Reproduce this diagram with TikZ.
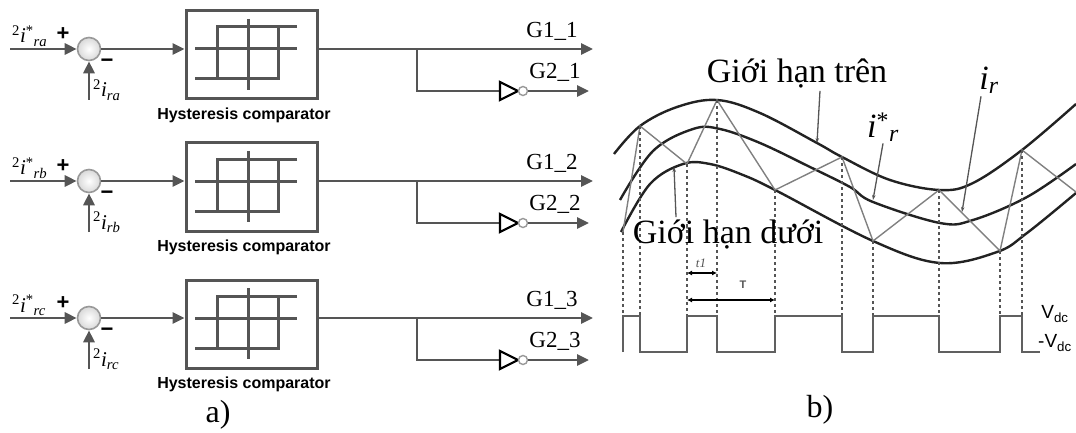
\documentclass[tikz,border=0pt]{standalone}
\usepackage{fontspec}
\setmainfont{Liberation Serif}
\setsansfont{Liberation Sans}
\usetikzlibrary{arrows.meta,calc}
\definecolor{wg}{HTML}{555555}
\definecolor{cv}{HTML}{222222}
\definecolor{zz}{HTML}{808080}
\definecolor{pl}{HTML}{606060}
\begin{document}
\begin{tikzpicture}[x=1pt,y=-1pt,
  wire/.style={draw=wg,line width=2.8pt},
  arr/.style={wire,-{Triangle[length=12pt,width=11pt]}},
  sumnode/.style={circle,draw=gray!80,line width=1.6pt,inner color=white,outer color=gray!30,minimum size=23pt,inner sep=0pt},
  hbox/.style={draw=wg,line width=3pt,fill=white,minimum width=131pt,minimum height=88pt,inner sep=0pt},
  bubble/.style={circle,draw=gray!80,line width=1.4pt,fill=white,minimum size=9pt,inner sep=0pt},
  hys/.style={draw=wg,line width=3pt},
  glab/.style={font=\fontsize{23}{26}\selectfont,inner sep=0pt},
  inlab/.style={font=\fontsize{21}{24}\selectfont,inner sep=0pt},
  sgn/.style={font=\sffamily\bfseries\fontsize{22}{24}\selectfont,inner sep=0pt},
  cmp/.style={font=\sffamily\bfseries\fontsize{16}{18}\selectfont,inner sep=0pt},
  curve/.style={draw=cv,line width=2.4pt},
  zig/.style={draw=zz,line width=1.4pt},
  dots/.style={draw=wg,line width=2.4pt,dash pattern=on 3pt off 3pt},
  pulse/.style={draw=pl,line width=1.8pt},
  ptr/.style={draw=wg,line width=1.3pt,-{Stealth[length=5pt,width=3.5pt]}},
  dim/.style={draw=black,line width=1.3pt,{Latex[length=5pt,width=5pt]}-{Latex[length=5pt,width=5pt]}},
  vlab/.style={font=\fontsize{34}{38}\selectfont,inner sep=0pt},
  capt/.style={font=\fontsize{32}{36}\selectfont,inner sep=0pt}]
\useasboundingbox (0,0) rectangle (1076,433);

% ---------- part a ----------
\foreach \y/\s/\n in {49/a/1,181/b/2,318/c/3}{
  \coordinate (in\n) at (10,\y);
  \node[sumnode] (sum\n) at (89,\y) {};
  \coordinate (fb\n) at (89,\y+51);
  \node[hbox] (box\n) at (251.5,\y+6) {};
  % hysteresis symbol
  \draw[hys] (195,\y) -- (297,\y);
  \draw[hys] (248,\y-30) -- (248,\y+41);
  \draw[hys] (297,\y-22) -- (217,\y-22) -- (217,\y+30);
  \draw[hys] (195,\y+30) -- (278,\y+30) -- (278,\y-22);
  \node[cmp] (cmp\n) at (244,\y+66) {Hysteresis comparator};
  % inputs
  \draw[arr] (in\n) -- (sum\n.west);
  \draw[arr] (fb\n) -- (sum\n.south);
  \draw[arr] (sum\n.east) -- (box\n.west |- sum\n.east);
  \node[inlab,anchor=base west] (ref\n) at (12,\y-6)
     {\textsuperscript{2}\textit{i}\textsuperscript{*}\textsubscript{\textit{r\s}}};
  \node[inlab,anchor=base west] (meas\n) at (93,\y+48)
     {\textsuperscript{2}\textit{i}\textsubscript{\textit{r\s}}};
  \node[sgn] (plus\n) at (63,\y-15) {+};
  \node[sgn] (minus\n) at (107,\y+14) {−};
  % outputs
  \coordinate (g1e\n) at (593,\y);
  \coordinate (br\n) at (417,\y);
  \coordinate (invin\n) at (500,\y+42);
  \coordinate (g2e\n) at (589,\y+42);
  \draw[arr] (box\n.east |- sum\n.east) -- (g1e\n);
  \draw[wire] (br\n) |- (invin\n);
  \draw[black,line width=2.2pt,line join=miter] (invin\n) -- ++(0,-9) -- ++(18,9) -- ++(-18,9) -- cycle;
  \node[bubble] (bub\n) at (523,\y+42) {};
  \draw[arr] (bub\n) -- (g2e\n);
  \node[glab] (G1\n) at (552,\y-18) {G1\_\n};
  \node[glab] (G2\n) at (555,\y+23) {G2\_\n};
}
\node[capt] (capa) at (218,415) {a)};

% ---------- part b ----------
\draw[curve] plot[smooth,tension=0.6] coordinates {(614,154) (640,126) (677,107) (717,100) (760,113) (817,143) (842,157) (890,180) (940,190) (973,183) (1022,150) (1076,104)};
\draw[curve] plot[smooth,tension=0.6] coordinates {(620,200) (653,151) (693,129) (720,129) (760,143) (810,167) (850,187) (873,202) (940,223) (973,220) (1027,197) (1076,164)};
\draw[curve] plot[smooth,tension=0.6] coordinates {(621,232) (650,184) (683,164) (710,164) (743,175) (777,191) (873,241) (940,263) (997,252) (1027,233) (1076,193)};

\coordinate (v1) at (623,232);
\coordinate (v2) at (640,126);
\coordinate (v3) at (687,164);
\coordinate (v4) at (717,100);
\coordinate (v5) at (775,190);
\coordinate (v6) at (842,157);
\coordinate (v7) at (873,241);
\coordinate (v8) at (939,190);
\coordinate (v9) at (1000,251);
\coordinate (v10) at (1022,150);
\coordinate (vend) at (1076,192);
\coordinate (hi) at (0,316);
\coordinate (lo) at (0,352);

\draw[zig] (v1) -- (v2) -- (v3) -- (v4) -- (v5) -- (v6) -- (v7) -- (v8) -- (v9) -- (v10) -- (vend);
\foreach \v in {v1,v2,v3,v4,v5,v6,v7,v8,v9,v10}{
  \draw[dots] (\v) -- (\v |- hi);
}
\draw[pulse] (v1 |- lo) -- (v1 |- hi) -- (v2 |- hi) -- (v2 |- lo) -- (v3 |- lo) -- (v3 |- hi)
  -- (v4 |- hi) -- (v4 |- lo) -- (v5 |- lo) -- (v5 |- hi) -- (v6 |- hi) -- (v6 |- lo)
  -- (v7 |- lo) -- (v7 |- hi) -- (v8 |- hi) -- (v8 |- lo) -- (v9 |- lo) -- (v9 |- hi)
  -- (v10 |- hi) -- (v10 |- lo) -- (1040,352);

\coordinate (t1y) at (0,273);
\coordinate (Ty) at (0,300);
\draw[dim] (v3 |- t1y) -- (v4 |- t1y);
\draw[dim] (v3 |- Ty) -- (v5 |- Ty);
\node[font=\fontsize{13}{15}\selectfont\itshape,text=wg,inner sep=0pt] (t1lab) at (701,263) {t1};
\node[font=\sffamily\bfseries\fontsize{11}{12}\selectfont,text=wg,inner sep=0pt] (Tlab) at (743,285) {T};

\node[font=\sffamily\fontsize{19}{22}\selectfont,inner sep=0pt] (vdc) at (1055,314) {V\textsubscript{dc}};
\node[font=\sffamily\fontsize{19}{22}\selectfont,inner sep=0pt] (mvdc) at (1055,343) {-V\textsubscript{dc}};

\node[vlab] (upl) at (797,73) {Giới hạn trên};
\coordinate (upt) at (817,143);
\draw[ptr] ([xshift=23pt,yshift=-3pt]upl.south) -- (upt);

\node[vlab] (istar) at (883,127) {\textit{i}\textsuperscript{*}\textsubscript{\textit{r}}};
\coordinate (ispt) at (873,200);
\draw[ptr] ([yshift=-2pt]istar.south) -- (ispt);

\node[vlab] (ir) at (989,80) {\textit{i}\textsubscript{\textit{r}}};
\coordinate (irpt) at (962,212);
\draw[ptr] ([xshift=-8pt,yshift=-3pt]ir.south) -- (irpt);

\node[vlab] (lowl) at (728,234) {Giới hạn dưới};
\coordinate (lopt) at (674,167);
\draw[ptr] ([xshift=-52pt,yshift=2pt]lowl.north) -- (lopt);

\node[capt] (capb) at (820,410) {b)};
\end{tikzpicture}
\end{document}
